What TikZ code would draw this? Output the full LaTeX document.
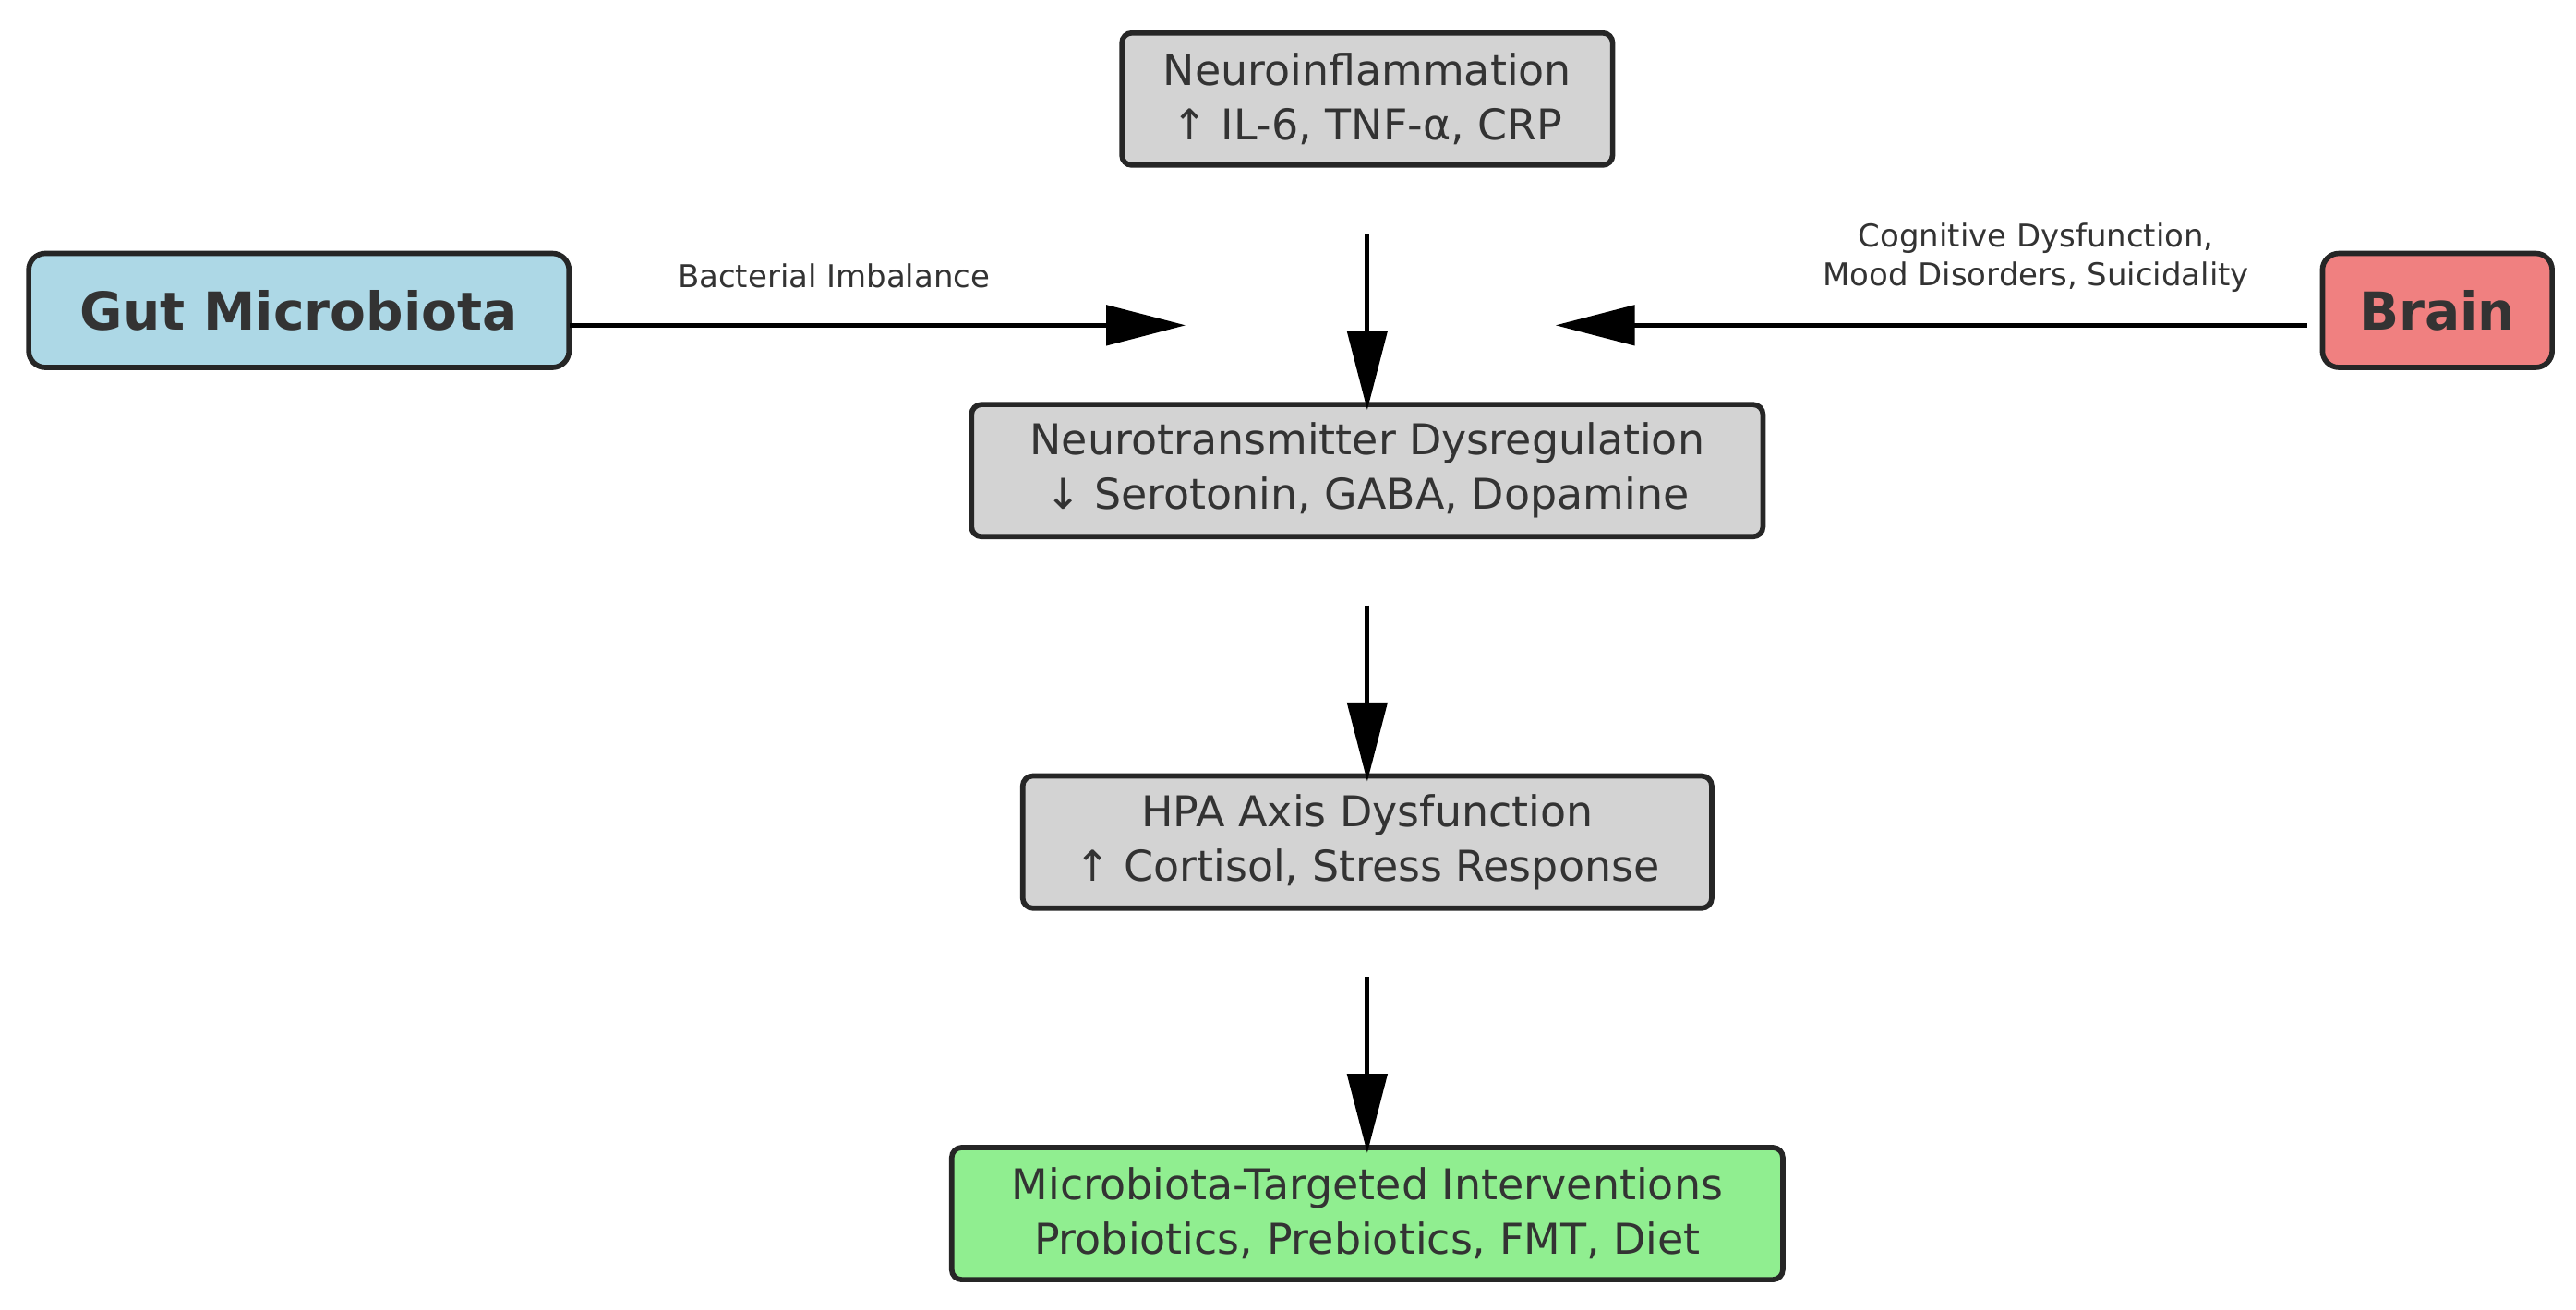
\documentclass[tikz,border=0pt]{standalone}
\usepackage{fontspec}
\setmainfont{DejaVu Sans}
\usetikzlibrary{arrows.meta}
\definecolor{tc}{HTML}{333333}
\definecolor{lb}{HTML}{ADD8E6}
\definecolor{lc}{HTML}{F08080}
\definecolor{lg}{HTML}{D3D3D3}
\definecolor{lgr}{HTML}{90EE90}
\begin{document}
\begin{tikzpicture}[x=0.01cm,y=-0.01cm,
  box/.style={draw=black!85,line width=0.9pt,rounded corners=0.06cm,text=tc,align=center,inner sep=0,font=\fontsize{7.3}{9.4}\selectfont},
  big/.style={draw=black!85,line width=0.9pt,rounded corners=0.1cm,text=tc,align=center,inner sep=0,font=\fontsize{9}{11}\selectfont\bfseries},
  arr/.style={line width=0.8pt,-{Triangle[length=0.48cm,width=0.24cm]}},
  lab/.style={text=tc,align=center,font=\fontsize{5.4}{6.6}\selectfont}]
\useasboundingbox (0,0) rectangle (1560,793);
\node[box,fill=lg,minimum width=2.97cm,minimum height=0.8cm] (ni) at (828,60) {Neuroinflammation\\↑ IL-6, TNF-α, CRP};
\node[big,fill=lb,minimum width=3.27cm,minimum height=0.69cm] (gut) at (181,188) {Gut Microbiota};
\node[big,fill=lc,minimum width=1.39cm,minimum height=0.69cm] (br) at (1476,188) {Brain};
\node[box,fill=lg,minimum width=4.79cm,minimum height=0.8cm] (nt) at (828,285) {Neurotransmitter Dysregulation\\↓ Serotonin, GABA, Dopamine};
\node[box,fill=lg,minimum width=4.17cm,minimum height=0.8cm] (hpa) at (828,510) {HPA Axis Dysfunction\\↑ Cortisol, Stress Response};
\node[box,fill=lgr,minimum width=5.03cm,minimum height=0.8cm] (mt) at (828,735) {Microbiota-Targeted Interventions\\Probiotics, Prebiotics, FMT, Diet};
\coordinate (gs) at (345,197); \coordinate (ge) at (718,197);
\coordinate (bs) at (1397,197); \coordinate (be) at (942,197);
\draw[arr] (gs) -- (ge);
\draw[arr] (bs) -- (be);
\draw[arr,shorten <=0.4cm] (ni.south) -- ([yshift=-0.05cm]nt.north);
\draw[arr,shorten <=0.4cm] (nt.south) -- ([yshift=-0.05cm]hpa.north);
\draw[arr,shorten <=0.4cm] (hpa.south) -- ([yshift=-0.05cm]mt.north);
\node[lab] (l1) at (505,167) {Bacterial Imbalance};
\node[lab] (l2) at (1233,156) {Cognitive Dysfunction,\\Mood Disorders, Suicidality};
\end{tikzpicture}
\end{document}
